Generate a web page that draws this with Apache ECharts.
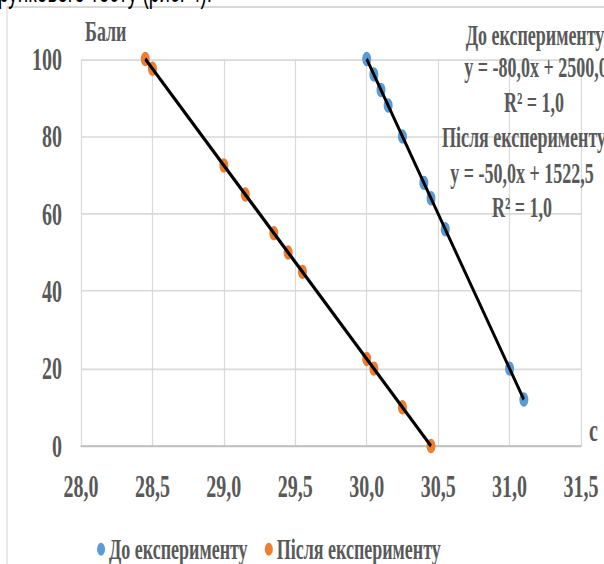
<!DOCTYPE html>
<html>
<head>
<meta charset="utf-8">
<script src="https://cdn.jsdelivr.net/npm/echarts@6/dist/echarts.min.js"></script>
<style>
html,body{margin:0;padding:0;background:#fff;overflow:hidden;}
#wrap{width:604px;height:564px;overflow:hidden;position:relative;background:#fff;}
#c{width:604px;height:352px;transform-origin:0 0;}
</style>
</head>
<body>
<div id="wrap"><div id="c"></div></div>
<script>
// ---- data ----
const xTickLabels = ['28,0','28,5','29,0','29,5','30,0','30,5','31,0','31,5'];
const yTickLabels = ['0','20','40','60','80','100'];
const seriesNames = ['До експерименту','Після експерименту'];
const beforeX = [30.0, 30.05, 30.1, 30.15, 30.25, 30.4, 30.45, 30.55, 31.0, 31.1];
const beforeY = [100, 96, 92, 88, 80, 68, 64, 56, 20, 12];
const afterX = [28.45, 28.5, 29.0, 29.15, 29.35, 29.45, 29.55, 30.0, 30.05, 30.25, 30.45];
const afterY = [100, 97.5, 72.5, 65, 55, 50, 45, 22.5, 20, 10, 0];
const yAxisName = 'Бали';
const xAxisName = 'с';
const topText = 'рункового тесту (рис. 4).';

// ---- layout (picture is stretched vertically) ----
const K = 564 / 352;
document.getElementById('c').style.transform = 'scaleY(' + K + ')';
const Y = v => v / K;
const FONT = '"Liberation Serif", "Times New Roman", serif';
const GREY = '#595959';

function fit(xs, ys) {
  const n = xs.length;
  const mx = xs.reduce((a, b) => a + b, 0) / n;
  const my = ys.reduce((a, b) => a + b, 0) / n;
  let sxy = 0, sxx = 0, syy = 0;
  for (let i = 0; i < n; i++) {
    sxy += (xs[i] - mx) * (ys[i] - my);
    sxx += (xs[i] - mx) * (xs[i] - mx);
    syy += (ys[i] - my) * (ys[i] - my);
  }
  const a = sxy / sxx, b = my - a * mx;
  const r2 = (sxy * sxy) / (sxx * syy);
  return { a, b, r2 };
}
const fmt = v => v.toFixed(1).replace('.', ',');
function eqText(f) {
  return 'y = ' + fmt(f.a) + 'x ' + (f.b < 0 ? '- ' : '+ ') + fmt(Math.abs(f.b));
}
function trend(xs, f) {
  const lo = Math.min(...xs), hi = Math.max(...xs);
  return [[lo, f.a * lo + f.b], [hi, f.a * hi + f.b]];
}
const fB = fit(beforeX, beforeY);
const fA = fit(afterX, afterY);

const chart = echarts.init(document.getElementById('c'), null, { renderer: 'svg' });

const txt = (text, x, yFinal, align) => ({
  type: 'text', x: x, y: Y(yFinal), z: 10,
  style: { text: text, font: 'bold 18px ' + FONT, fill: GREY, align: align || 'center', verticalAlign: 'middle' }
});

chart.setOption({
  animation: false,
  backgroundColor: '#fff',
  grid: { left: 81, width: 500, top: Y(59), height: Y(446) - Y(59) },
  xAxis: {
    type: 'value', min: 28, max: 31.5, interval: 0.5,
    name: xAxisName, nameLocation: 'end', nameGap: 8,
    nameTextStyle: { fontFamily: FONT, fontWeight: 'bold', fontSize: 20, color: GREY, verticalAlign: 'bottom', align: 'left' },
    axisLine: { show: true, lineStyle: { color: '#BFBFBF', width: 1.3 } },
    axisTick: { show: false },
    splitLine: { show: true, lineStyle: { color: '#D9D9D9', width: 1.2 } },
    axisLabel: {
      margin: 15, fontFamily: FONT, fontWeight: 'bold', fontSize: 20, color: GREY,
      formatter: v => xTickLabels[Math.round((v - 28) / 0.5)]
    }
  },
  yAxis: {
    type: 'value', min: 0, max: 100, interval: 20,
    name: yAxisName, nameLocation: 'end', nameGap: 8,
    nameTextStyle: { fontFamily: FONT, fontWeight: 'bold', fontSize: 18, color: GREY, align: 'left', padding: [0, 0, 0, 4] },
    axisLine: { show: false }, axisTick: { show: false },
    splitLine: { show: true, lineStyle: { color: '#D9D9D9', width: 1 } },
    axisLabel: {
      margin: 19, fontFamily: FONT, fontWeight: 'bold', fontSize: 20, color: GREY,
      formatter: v => yTickLabels[Math.round(v / 20)]
    }
  },
  legend: {
    data: seriesNames, left: 97, top: Y(546) - 7, padding: 0, icon: 'circle',
    itemWidth: 8, itemHeight: 8, itemGap: 17,
    textStyle: { fontFamily: FONT, fontWeight: 'bold', fontSize: 18, color: GREY, padding: [0, 0, 0, -1] }
  },
  series: [
    { name: seriesNames[0], type: 'scatter', symbol: 'circle', symbolSize: 9, z: 2,
      itemStyle: { color: '#5B9BD5', opacity: 1 }, data: beforeX.map((x, i) => [x, beforeY[i]]) },
    { name: seriesNames[1], type: 'scatter', symbol: 'circle', symbolSize: 9, z: 2,
      itemStyle: { color: '#ED7D31', opacity: 1 }, data: afterX.map((x, i) => [x, afterY[i]]) },
    { name: 'trend1', type: 'line', symbol: 'none', z: 5, silent: true,
      lineStyle: { color: '#000', width: 2.6 }, data: trend(beforeX, fB) },
    { name: 'trend2', type: 'line', symbol: 'none', z: 5, silent: true,
      lineStyle: { color: '#000', width: 2.6 }, data: trend(afterX, fA) }
  ],
  graphic: [
    { type: 'rect', shape: { x: 7, y: Y(7), width: 800, height: 800 }, z: -1,
      style: { fill: 'none', stroke: '#D9D9D9', lineWidth: 1.2 } },
    { type: 'text', x: -2, y: Y(6), style: { text: topText, font: '19px "Liberation Sans", Arial, sans-serif', fill: '#000', align: 'left', verticalAlign: 'bottom' } },
    txt(seriesNames[0], 535, 35),
    txt(eqText(fB), 536, 67),
    txt('R² = ' + fmt(fB.r2), 534, 102),
    txt(seriesNames[1], 524, 137),
    txt(eqText(fA), 522, 173),
    txt('R² = ' + fmt(fA.r2), 522, 207)
  ]
});
</script>
</body>
</html>
